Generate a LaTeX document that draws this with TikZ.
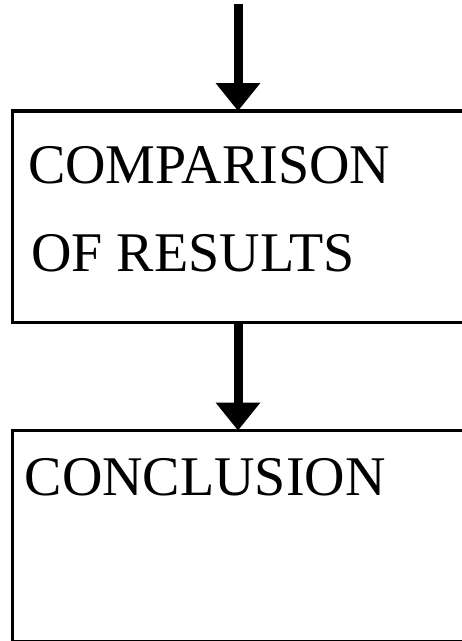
\documentclass[tikz,border=0pt]{standalone}
\usepackage{fontspec}
\setmainfont{Liberation Serif}
\usepackage{tikz}
\usetikzlibrary{
  arrows.meta,
  positioning
}

\begin{document}
\begin{tikzpicture}[
  x=1pt, y=-1pt,
  stage/.style={
    draw, line width=3.5pt,
    minimum width=451pt, minimum height=211.5pt,
    inner sep=0pt, outer sep=0pt
  },
  heading/.style={
    inner sep=0pt, anchor=base west,
    font=\fontsize{56}{60}\selectfont
  },
  flow/.style={
    line width=9pt, -{Triangle[length=28pt, width=43pt]}
  }
]
  \useasboundingbox (0,0) rectangle (462,641);

  \node[stage] (compare) at (238, 216.75) {};
  \node[stage] (conclude) at (238, 536.25) {};

  \node[heading] (compare1) at (27.8, 183) {COMPARISON};
  \node[heading] (compare2) at (31.2, 271.7) {OF RESULTS};
  \node[heading] (conclude1) at (24.5, 495) {CONCLUSION};

  \coordinate (entry) at (238, 4);
  \draw[flow] (entry) -- (compare.north);
  \draw[flow] (compare.south) -- (conclude.north);
\end{tikzpicture}
\end{document}
